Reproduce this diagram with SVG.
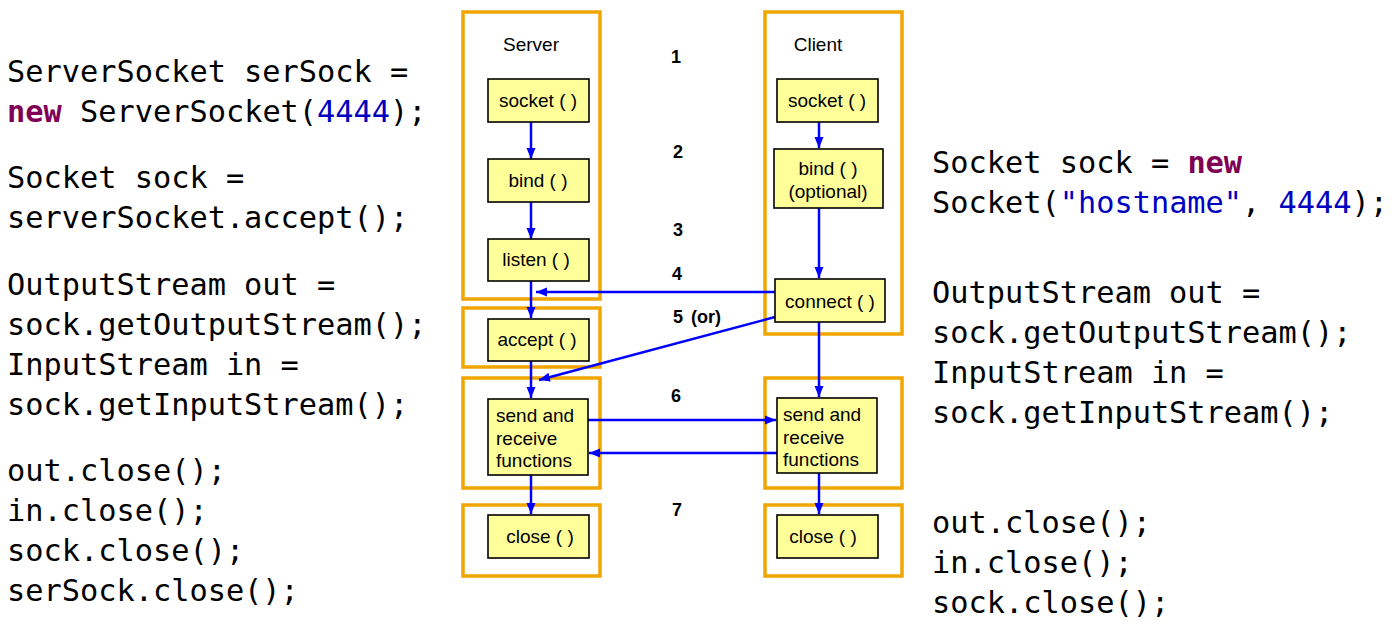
<svg xmlns="http://www.w3.org/2000/svg" width="1392" height="626" viewBox="0 0 1392 626">
<style>
.code{font-family:"DejaVu Sans Mono","Liberation Mono",monospace;font-size:30.3px;fill:#000}
.kw{fill:#7F0055;font-weight:bold}
.num{fill:#0000C0}
.grp{fill:none;stroke:#F0A500;stroke-width:3.5}
.box{fill:#FFFF99;stroke:#000;stroke-width:1.6}
.lbl{font-family:"Liberation Sans",Arial,sans-serif;font-size:19px;fill:#000}
.n{font-family:"Liberation Sans",Arial,sans-serif;font-size:18px;font-weight:bold;fill:#000}
.ar{stroke:#0000FF;stroke-width:2.5;fill:none;marker-end:url(#ah)}
</style>
<defs>
<marker id="ah" markerUnits="userSpaceOnUse" markerWidth="12" markerHeight="12" viewBox="0 0 12 12" refX="11" refY="6" orient="auto">
<path d="M0,1.5 L11,6 L0,10.5 Z" fill="#0000FF"/>
</marker>
</defs>
<rect width="1392" height="626" fill="#fff"/>

<g id="server-code" class="code">
<text x="7" y="82">ServerSocket serSock =</text>
<text x="7" y="122"><tspan class="kw">new</tspan> ServerSocket(<tspan class="num">4444</tspan>);</text>
<text x="7" y="188">Socket sock =</text>
<text x="7" y="228">serverSocket.accept();</text>
<text x="7" y="295">OutputStream out =</text>
<text x="7" y="335">sock.getOutputStream();</text>
<text x="7" y="375">InputStream in =</text>
<text x="7" y="415">sock.getInputStream();</text>
<text x="7" y="481">out.close();</text>
<text x="7" y="521">in.close();</text>
<text x="7" y="561">sock.close();</text>
<text x="7" y="601">serSock.close();</text>
</g>

<g id="client-code" class="code">
<text x="932" y="173">Socket sock = <tspan class="kw">new</tspan></text>
<text x="932" y="213">Socket(<tspan class="num">"hostname"</tspan>, <tspan class="num">4444</tspan>);</text>
<text x="932" y="303">OutputStream out =</text>
<text x="932" y="343">sock.getOutputStream();</text>
<text x="932" y="383">InputStream in =</text>
<text x="932" y="423">sock.getInputStream();</text>
<text x="932" y="533">out.close();</text>
<text x="932" y="573">in.close();</text>
<text x="932" y="613">sock.close();</text>
</g>

<g id="groups">
<rect class="grp" x="463" y="12" width="137" height="287"/>
<rect class="grp" x="765" y="12" width="137" height="322"/>
<rect class="grp" x="463" y="308" width="137" height="59"/>
<rect class="grp" x="463" y="378" width="137" height="110"/>
<rect class="grp" x="765" y="378" width="137" height="110"/>
<rect class="grp" x="463" y="505" width="137" height="71"/>
<rect class="grp" x="765" y="505" width="137" height="71"/>
</g>

<g id="titles">
<text class="lbl" x="531" y="51" text-anchor="middle">Server</text>
<text class="lbl" x="818" y="51" text-anchor="middle">Client</text>
</g>

<g id="steps">
<text class="n" x="676" y="63" text-anchor="middle">1</text>
<text class="n" x="678" y="158" text-anchor="middle">2</text>
<text class="n" x="678" y="236" text-anchor="middle">3</text>
<text class="n" x="677" y="280" text-anchor="middle">4</text>
<text class="n" x="673" y="323">5 <tspan dx="3">(or)</tspan></text>
<text class="n" x="676" y="402" text-anchor="middle">6</text>
<text class="n" x="677" y="516" text-anchor="middle">7</text>
</g>

<g id="connectors">
<line class="ar" x1="531" y1="122" x2="531" y2="159"/>
<line class="ar" x1="531" y1="202" x2="531" y2="239"/>
<line class="ar" x1="531" y1="281" x2="531" y2="318"/>
<line class="ar" x1="531" y1="361" x2="531" y2="398"/>
<line class="ar" x1="531" y1="475" x2="531" y2="514"/>
<line class="ar" x1="819" y1="122" x2="819" y2="148"/>
<line class="ar" x1="819" y1="208" x2="819" y2="278"/>
<line class="ar" x1="819" y1="322" x2="819" y2="397"/>
<line class="ar" x1="819" y1="473" x2="819" y2="514"/>
<line class="ar" x1="775" y1="292" x2="536" y2="292"/>
<line class="ar" x1="775" y1="317" x2="539" y2="380"/>
<line class="ar" x1="588" y1="420" x2="776" y2="420"/>
<line class="ar" x1="777" y1="453" x2="589" y2="453"/>
</g>

<g id="s-socket"><rect class="box" x="488" y="79" width="101" height="43"/><text class="lbl" x="538" y="107" text-anchor="middle">socket ( )</text></g>
<g id="s-bind"><rect class="box" x="488" y="159" width="101" height="43"/><text class="lbl" x="538" y="187" text-anchor="middle">bind ( )</text></g>
<g id="s-listen"><rect class="box" x="488" y="239" width="101" height="42"/><text class="lbl" x="536" y="266" text-anchor="middle">listen ( )</text></g>
<g id="s-accept"><rect class="box" x="488" y="319" width="101" height="42"/><text class="lbl" x="537" y="346" text-anchor="middle">accept ( )</text></g>
<g id="s-send"><rect class="box" x="488" y="399" width="100" height="76"/><text class="lbl" x="496" y="422">send and</text><text class="lbl" x="496" y="445">receive</text><text class="lbl" x="496" y="467">functions</text></g>
<g id="s-close"><rect class="box" x="488" y="515" width="101" height="43"/><text class="lbl" x="540" y="543" text-anchor="middle">close ( )</text></g>

<g id="c-socket"><rect class="box" x="777" y="79" width="101" height="43"/><text class="lbl" x="827" y="107" text-anchor="middle">socket ( )</text></g>
<g id="c-bind"><rect class="box" x="774" y="149" width="109" height="59"/><text class="lbl" x="828" y="175" text-anchor="middle">bind ( )</text><text class="lbl" x="828" y="198" text-anchor="middle">(optional)</text></g>
<g id="c-connect"><rect class="box" x="775" y="279" width="110" height="43"/><text class="lbl" x="830" y="308" text-anchor="middle">connect ( )</text></g>
<g id="c-send"><rect class="box" x="777" y="398" width="100" height="75"/><text class="lbl" x="783" y="421">send and</text><text class="lbl" x="783" y="444">receive</text><text class="lbl" x="783" y="466">functions</text></g>
<g id="c-close"><rect class="box" x="777" y="515" width="101" height="43"/><text class="lbl" x="823" y="543" text-anchor="middle">close ( )</text></g>
</svg>
